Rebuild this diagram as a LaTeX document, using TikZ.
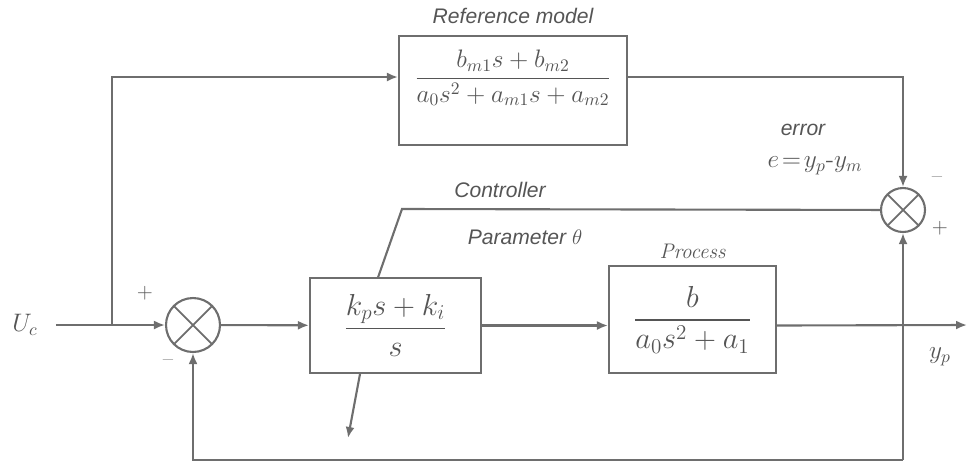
\documentclass[tikz,border=0pt]{standalone}
\usepackage{amsmath}
\usepackage{fontspec}
\setsansfont{Liberation Sans}
\usepackage{tikz}
\usetikzlibrary{arrows.meta,positioning,calc,backgrounds}
\definecolor{linegray}{HTML}{6E6E6E}
\definecolor{textgray}{HTML}{555555}

\begin{document}
\begin{tikzpicture}[x=0.02cm,y=-0.02cm,
    blk/.style={draw=linegray,line width=1.2pt,fill=white,text=textgray,inner sep=0pt},
    sum/.style={circle,draw=linegray,line width=1.2pt,fill=white,inner sep=0pt,
      path picture={\draw[linegray,line width=1pt] (path picture bounding box.north west) -- (path picture bounding box.south east)
        (path picture bounding box.north east) -- (path picture bounding box.south west);}},
    arr/.style={-{Latex[length=2.2mm,width=1.8mm]},line width=1.2pt,linegray},
    lbl/.style={text=textgray,font=\sffamily\itshape\large},
    sgn/.style={text=textgray,font=\large}
  ]
  \useasboundingbox (0,0) rectangle (969,464);
  % blocks
  \node[blk,minimum width=4.56cm,minimum height=2.18cm] (refm) at (513,90.5) {};
  \node[text=textgray,font=\Large] (refmtf) at (513,78) {$\dfrac{b_{m1}s+b_{m2}}{a_0s^2+a_{m1}s+a_{m2}}$};
  \node[blk,minimum width=3.42cm,minimum height=1.9cm,font=\LARGE] (ctrl) at (395.5,325.5) {$\dfrac{k_ps+k_i}{s}$};
  \node[blk,minimum width=3.34cm,minimum height=2.14cm,font=\LARGE] (proc) at (692.5,319.5) {$\dfrac{b}{a_0s^2+a_1}$};
  \node[sum,minimum size=1.08cm] (s1) at (193,325) {};
  \node[sum,minimum size=0.88cm] (s2) at (903,210) {};
  % labels
  \node[lbl,above=1mm of refm] (reflbl) {Reference model};
  \node[lbl] (ctrllbl) at (500,190) {Controller};
  \node[lbl] (parlbl) at (525,237) {Parameter $\theta$};
  \node[lbl,font=\rmfamily\itshape\large,above=0pt of proc] (proclbl) {Process};
  \node[lbl] (errlbl) at (803,130) {error};
  \node[text=textgray,font=\Large] (eqlbl) at (815,166) {$e\!=\!y_p\text{-}y_m$};
  \node[text=textgray,font=\Large] (uc) at (25,325) {$U_c$};
  \node[text=textgray,font=\Large] (yp) at (940,357) {$y_p$};
  \node[sgn] (p1) at (145,293) {+};
  \node[sgn] (m1) at (168,363) {\textendash};
  \node[sgn] (m2) at (937,180) {\textendash};
  \node[sgn] (p2) at (940,228) {+};
  % connectors
  \coordinate (mrow) at (0,77);
  \coordinate (tap) at (112,325);
  \coordinate (fb) at (903,460);
  \coordinate (yend) at (967,325);
  \coordinate (ck) at (402,209);
  \coordinate (kin) at ($(ctrl.north west)!0.4!(ctrl.north east)$);
  \coordinate (ktip) at (348,438);
  \draw[arr,shorten <=2.4mm] (uc) -- (s1);
  \draw[arr] (tap) |- (refm.west |- mrow);
  \draw[arr] (refm.east |- mrow) -| (s2);
  \draw[arr] (s1) -- (ctrl);
  \draw[arr] (ctrl.east) -- (proc.west |- ctrl.east);
  \draw[arr] (proc.east |- ctrl.east) -- (yend);
  \draw[arr] (fb) -- (s2);
  \draw[arr] (fb) -| (s1);
  \begin{scope}[on background layer]
    \draw[arr] (s2) -- (ck) -- (kin) -- (ktip);
  \end{scope}
\end{tikzpicture}
\end{document}
